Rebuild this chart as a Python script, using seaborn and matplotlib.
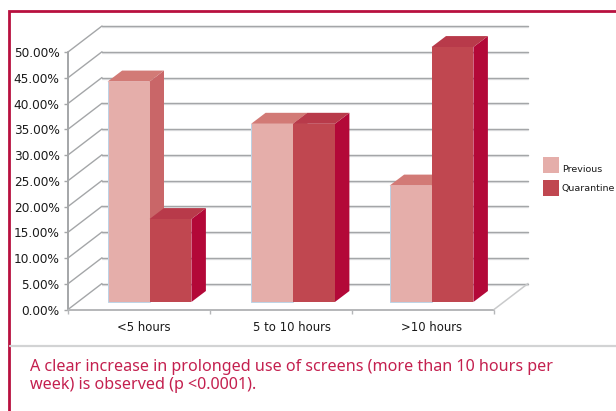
import matplotlib
matplotlib.use("Agg")
import matplotlib.pyplot as plt
import pandas as pd
import seaborn as sns
from matplotlib.lines import Line2D
from matplotlib.patches import Polygon, Rectangle
from matplotlib.ticker import FuncFormatter
from matplotlib.transforms import Affine2D, IdentityTransform

categories = ["<5 hours", "5 to 10 hours", ">10 hours"]
previous = [42.8, 34.6, 22.6]
quarantine = [16.1, 34.6, 49.5]
series_names = ["Previous", "Quarantine"]

W, H = 616, 411
FRONT = {"Previous": "#e5aeaa", "Quarantine": "#c04750"}
TOP = {"Previous": "#d27a76", "Quarantine": "#b83a4a"}
SIDE = {"Previous": "#c96668", "Quarantine": "#b30838"}
GRID = "#a4a6a8"
CRIMSON = "#b8103f"

sns.set_theme(style="white")
plt.rcParams["font.family"] = "DejaVu Sans"

df = pd.DataFrame({
    "period": categories * 2,
    "share": previous + quarantine,
    "series": [series_names[0]] * 3 + [series_names[1]] * 3,
})

fig = plt.figure(figsize=(W / 100, H / 100), dpi=100, facecolor="white")
ax = fig.add_axes([68 / W, 1 - 309.5 / H, 426 / W, 257.5 / H])
ax.patch.set_alpha(0)

sns.barplot(data=df, x="period", y="share", hue="series",
            palette=FRONT, width=0.59, gap=0, saturation=1, ax=ax,
            legend=False, zorder=3)
ax.set_xlim(-0.5, 2.5)
ax.set_ylim(0, 50)
ax.set_xlabel("")
ax.set_ylabel("")
sns.despine(ax=ax, left=True, bottom=True, top=True, right=True)

# Value axis and category axis
ticks = list(range(0, 51, 5))
ax.set_yticks(ticks)
ax.yaxis.set_major_formatter(FuncFormatter(lambda v, _: f"{v:.2f}%"))
ax.tick_params(axis="y", length=3, width=1.0, color=GRID, pad=3,
               labelsize=8.7, labelcolor="#1a1a1a", left=True)
ax.set_xticks([0.03, 1.08, 2.06], categories)
ax.tick_params(axis="x", which="major", length=0, pad=8,
               labelsize=8.4, labelcolor="#1a1a1a")
ax.set_xticks([-0.5, 0.5, 1.5, 2.5], minor=True)
ax.tick_params(axis="x", which="minor", length=3, width=1.0, color="#b5b7b9",
               bottom=True)

# Pseudo-3D walls: depth vector in pixels
DX, DY = 34, 26
for v in ticks:
    x0, y0 = ax.transData.transform((-0.5, v))
    x1, _ = ax.transData.transform((2.5, v))
    for off, col, lw in ((-1.2, "#e6e7e8", 1.0), (0, GRID, 1.05)):
        ax.add_line(Line2D([x0 + DX, x1 + DX], [y0 + DY + off] * 2, color=col,
                           lw=lw, transform=IdentityTransform(),
                           clip_on=False, zorder=1))
    ax.add_line(Line2D([x0, x0 + DX], [y0, y0 + DY], color=GRID, lw=1.0,
                       transform=IdentityTransform(), clip_on=False, zorder=1.2))

# Front axis line and floor outline
x0, y0 = ax.transData.transform((-0.5, 0))
x1, _ = ax.transData.transform((2.5, 0))
_, ytop = ax.transData.transform((-0.5, 50))
ax.add_line(Line2D([x0, x0], [y0, ytop], color=GRID, lw=1.4,
                   transform=IdentityTransform(), clip_on=False, zorder=2))
ax.add_line(Line2D([x0, x1], [y0, y0], color="#b5b7b9", lw=1.4,
                   transform=IdentityTransform(), clip_on=False, zorder=2))
ax.add_line(Line2D([x1, x1 + DX], [y0, y0 + DY], color="#c9cacb", lw=1.1,
                   transform=IdentityTransform(), clip_on=False, zorder=2))

# Extrude each bar: front faces sit part-way into the floor
BAR_DX, BAR_DY = 14.5, 11
SINK = 7.5
group_shift = [10.5, 12, 8.5]
for s, (container, name) in enumerate(zip(ax.containers, series_names)):
    z = 3 + s
    for g, bar in enumerate(container):
        shift = Affine2D().translate(group_shift[g], SINK)
        bar.set_transform(ax.transData + shift)
        bar.set_clip_on(False)
        bar.set_zorder(z + 0.2)
        bar.set_edgecolor("none")
        (xa, ya) = ax.transData.transform((bar.get_x(), 0))
        (xb, yb) = ax.transData.transform((bar.get_x() + bar.get_width(), bar.get_height()))
        xa += group_shift[g]
        xb += group_shift[g]
        ya += SINK
        yb += SINK
        ax.add_patch(Polygon([(xb, ya), (xb + BAR_DX, ya + BAR_DY),
                              (xb + BAR_DX, yb + BAR_DY), (xb, yb)],
                             closed=True, fc=SIDE[name], ec="none",
                             transform=IdentityTransform(), clip_on=False, zorder=z))
        ax.add_patch(Polygon([(xa, yb), (xb, yb), (xb + BAR_DX, yb + BAR_DY),
                              (xa + BAR_DX, yb + BAR_DY)],
                             closed=True, fc=TOP[name], ec="none",
                             transform=IdentityTransform(), clip_on=False, zorder=z))
        if name == "Previous":
            ax.add_line(Line2D([xa, xa, xb], [yb, ya, ya], color="#bcd3e6", lw=0.7,
                               transform=IdentityTransform(), clip_on=False,
                               zorder=z + 0.3))

# Legend swatches with their labels
swatch_tops = [157, 180]
label_centres = [169.5, 188.5]
for name, top, mid in zip(series_names, swatch_tops, label_centres):
    fig.add_artist(Rectangle((543 / W, 1 - (top + 16) / H), 16 / W, 16 / H,
                             fc=FRONT[name], ec="none", transform=fig.transFigure))
    fig.text(562 / W, 1 - mid / H, name, fontsize=6.8, color="#1a1a1a",
             ha="left", va="center")

# Panel frame, divider and caption
fig.add_artist(Line2D([9 / W, 9 / W, 1], [0, 1 - 11 / H, 1 - 11 / H], color=CRIMSON,
                      lw=2, solid_joinstyle="miter"))
fig.add_artist(Line2D([10 / W, 1], [1 - 346 / H] * 2, color="#d2d3d4", lw=1.6))
caption = ("A clear increase in prolonged use of screens (more than 10 hours per\n"
           "week) is observed (p <0.0001).")
fig.text(30.5 / W, 1 - 359 / H, caption, color="#c4204f", fontsize=11.6,
         family="Noto Sans", va="top", ha="left", linespacing=1.16)

fig.savefig("out.png", dpi=100, facecolor="white")
